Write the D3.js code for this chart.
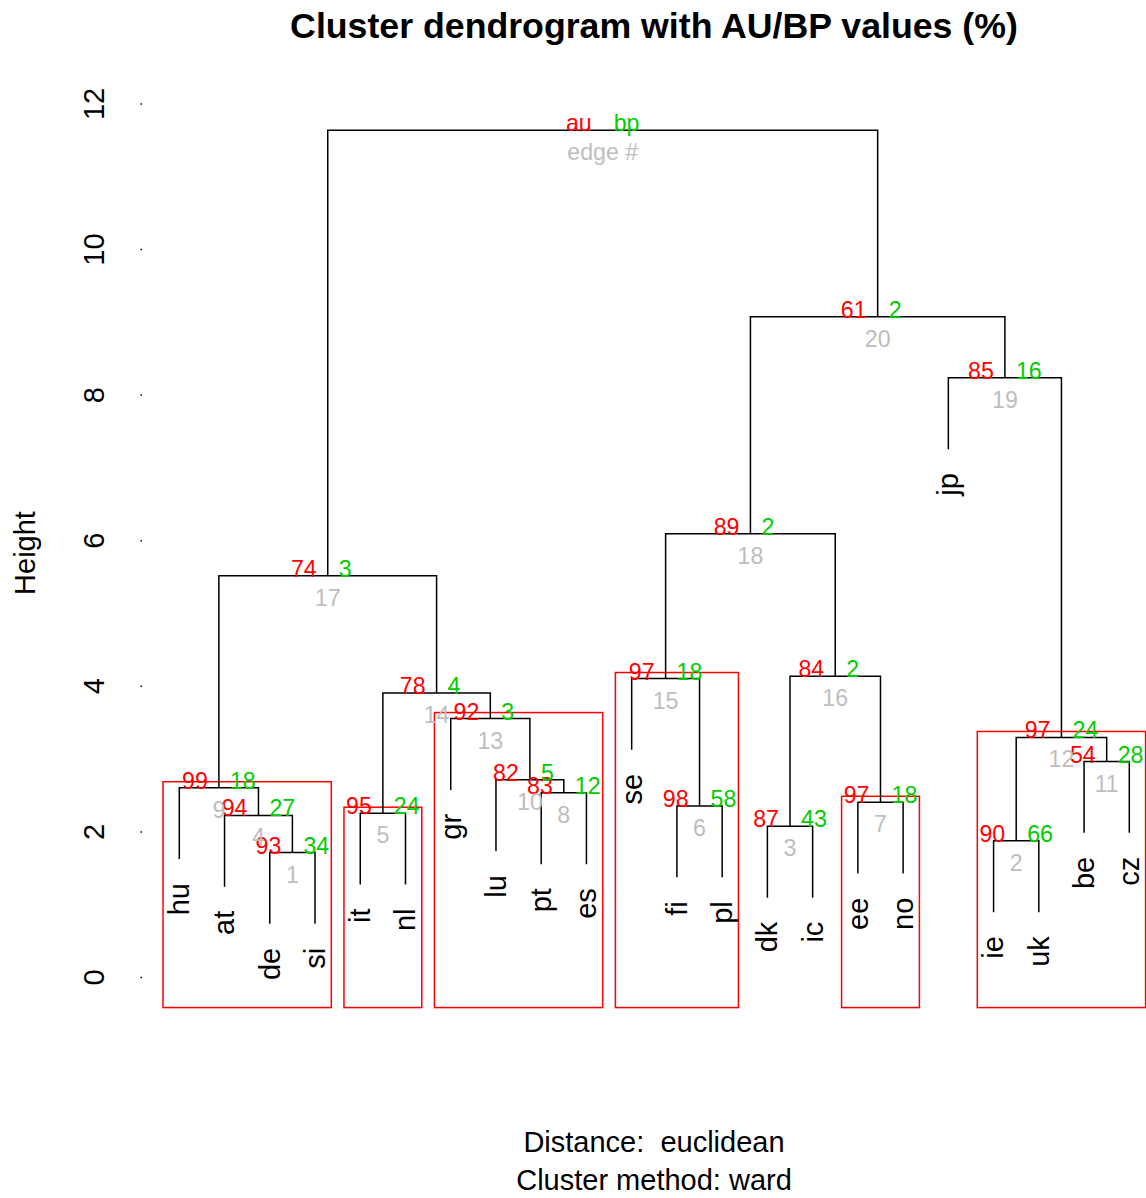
<!DOCTYPE html>
<html>
<head>
<meta charset="utf-8">
<script src="https://cdn.jsdelivr.net/npm/d3@7"></script>
<style>
    body { margin: 0; background: #fff; }
    svg { display: block; font-family: "Liberation Sans", Arial, sans-serif; }
    .axis path.domain { display: none; }
</style>
</head>
<body>
<div id="chart"></div>
<script>
// leaves in plotting order
var leafLabels = ['hu', 'at', 'de', 'si', 'it', 'nl', 'gr', 'lu', 'pt', 'es', 'se',
                  'fi', 'pl', 'dk', 'ic', 'ee', 'no', 'jp', 'ie', 'uk', 'be', 'cz'];

// merge table (hclust style): negative = leaf position, positive = edge #
var mergeLeft  = [-3, -19, -14, -2, -5, -12, -16, -9, -1, -8, -21, 2, -7, 5, -11, 3, 9, 15, -18, 18, 17];
var mergeRight = [-4, -20, -15, 1, -6, -13, -17, -10, 4, 8, -22, 11, 10, 13, 6, 7, 14, 16, 12, 19, 20];
var heights    = [1.71, 1.87, 2.07, 2.22, 2.25, 2.35, 2.40, 2.53, 2.60, 2.71, 2.96,
                  3.29, 3.55, 3.90, 4.10, 4.13, 5.51, 6.09, 8.23, 9.07, 11.63];
var auValues   = ['93', '90', '87', '94', '95', '98', '97', '83', '99', '82', '54',
                  '97', '92', '78', '97', '84', '74', '89', '85', '61', 'au'];
var bpValues   = ['34', '66', '43', '27', '24', '58', '18', '12', '18', '5', '28',
                  '24', '3', '4', '18', '2', '3', '2', '16', '2', 'bp'];
var edgeLabels = ['1', '2', '3', '4', '5', '6', '7', '8', '9', '10', '11', '12', '13',
                  '14', '15', '16', '17', '18', '19', '20', 'edge #'];

// clusters highlighted by pvrect
var rectEdges = [9, 5, 13, 15, 7, 12];

var yTicks = [0, 2, 4, 6, 8, 10, 12];
var hang = 0.98;

var W = 1146, H = 1198;
var svg = d3.select('#chart').append('svg')
    .attr('width', W)
    .attr('height', H);

var x = d3.scaleLinear().domain([1, 22]).range([179.3, 1129.3]);
var y = d3.scaleLinear().domain([0, 12]).range([977, 103.4]);

// node positions
function nodeX(k) {
    if (k < 0) return -k;
    return (nodeX(mergeLeft[k - 1]) + nodeX(mergeRight[k - 1])) / 2;
}
function childTop(k, parentH) {
    return k < 0 ? parentH - hang : heights[k - 1];
}
function members(k) {
    if (k < 0) return [-k];
    return members(mergeLeft[k - 1]).concat(members(mergeRight[k - 1]));
}

// rectangles
var mx = 0.36;
rectEdges.forEach(function(e) {
    var m = members(e);
    var xl = x(d3.min(m) - mx), xr = x(d3.max(m) + mx);
    var yt = y(heights[e - 1]) - 6, yb = y(-0.42);
    svg.append('rect')
        .attr('x', xl).attr('y', yt)
        .attr('width', xr - xl).attr('height', yb - yt)
        .attr('fill', 'none')
        .attr('stroke', '#ff0000')
        .attr('stroke-width', 1.5);
});

// dendrogram branches
heights.forEach(function(h, i) {
    var l = mergeLeft[i], r = mergeRight[i];
    var xl = x(nodeX(l)), xr = x(nodeX(r));
    var p = d3.path();
    p.moveTo(xl, y(childTop(l, h)));
    p.lineTo(xl, y(h));
    p.lineTo(xr, y(h));
    p.lineTo(xr, y(childTop(r, h)));
    svg.append('path')
        .attr('d', p.toString())
        .attr('fill', 'none')
        .attr('stroke', '#000')
        .attr('stroke-width', 1.5);
});

// leaf labels
leafLabels.forEach(function(lab, i) {
    var pos = i + 1, parentH = 0;
    heights.forEach(function(h, j) {
        if (mergeLeft[j] === -pos || mergeRight[j] === -pos) parentH = h;
    });
    var lx = x(pos), ly = y(parentH - hang) + 24;
    svg.append('text')
        .attr('transform', 'translate(' + lx + ',' + ly + ') rotate(-90)')
        .attr('text-anchor', 'end')
        .attr('dy', '0.34em')
        .attr('font-size', 29)
        .attr('fill', '#000')
        .text(lab);
});

// au / bp / edge numbers
var numSize = 23.2;
heights.forEach(function(h, i) {
    var cx = x(nodeX(i + 1)), cy = y(h);
    svg.append('text')
        .attr('x', cx - 11).attr('y', cy + 1)
        .attr('text-anchor', 'end')
        .attr('font-size', numSize)
        .attr('fill', '#ff0000')
        .text(auValues[i]);
    svg.append('text')
        .attr('x', cx + 11).attr('y', cy + 1)
        .attr('text-anchor', 'start')
        .attr('font-size', numSize)
        .attr('fill', '#00cd00')
        .text(bpValues[i]);
    svg.append('text')
        .attr('x', cx).attr('y', cy + 30)
        .attr('text-anchor', 'middle')
        .attr('font-size', numSize)
        .attr('fill', '#bebebe')
        .text(edgeLabels[i]);
});

// Y axis
var axisG = svg.append('g')
    .attr('class', 'axis')
    .attr('transform', 'translate(142,0)')
    .call(d3.axisLeft(y).tickValues(yTicks).tickSize(1.5).tickPadding(0));
axisG.selectAll('.tick line').attr('stroke', '#000').attr('stroke-width', 1.5);
axisG.selectAll('.tick text')
    .attr('x', null).attr('dy', null)
    .attr('transform', 'translate(-38.5,0) rotate(-90)')
    .attr('text-anchor', 'middle')
    .attr('font-size', 29)
    .attr('font-family', '"Liberation Sans", Arial, sans-serif')
    .attr('fill', '#000');

svg.append('text')
    .attr('transform', 'translate(35,553) rotate(-90)')
    .attr('text-anchor', 'middle')
    .attr('font-size', 29)
    .text('Height');

// titles
svg.append('text')
    .attr('x', 654).attr('y', 38)
    .attr('text-anchor', 'middle')
    .attr('font-size', 35.7)
    .attr('font-weight', 'bold')
    .text('Cluster dendrogram with AU/BP values (%)');

svg.append('text')
    .attr('x', 654).attr('y', 1152)
    .attr('text-anchor', 'middle')
    .attr('font-size', 29)
    .style('white-space', 'pre')
    .text('Distance:  euclidean');

svg.append('text')
    .attr('x', 654).attr('y', 1190)
    .attr('text-anchor', 'middle')
    .attr('font-size', 29)
    .text('Cluster method: ward');
</script>
</body>
</html>
